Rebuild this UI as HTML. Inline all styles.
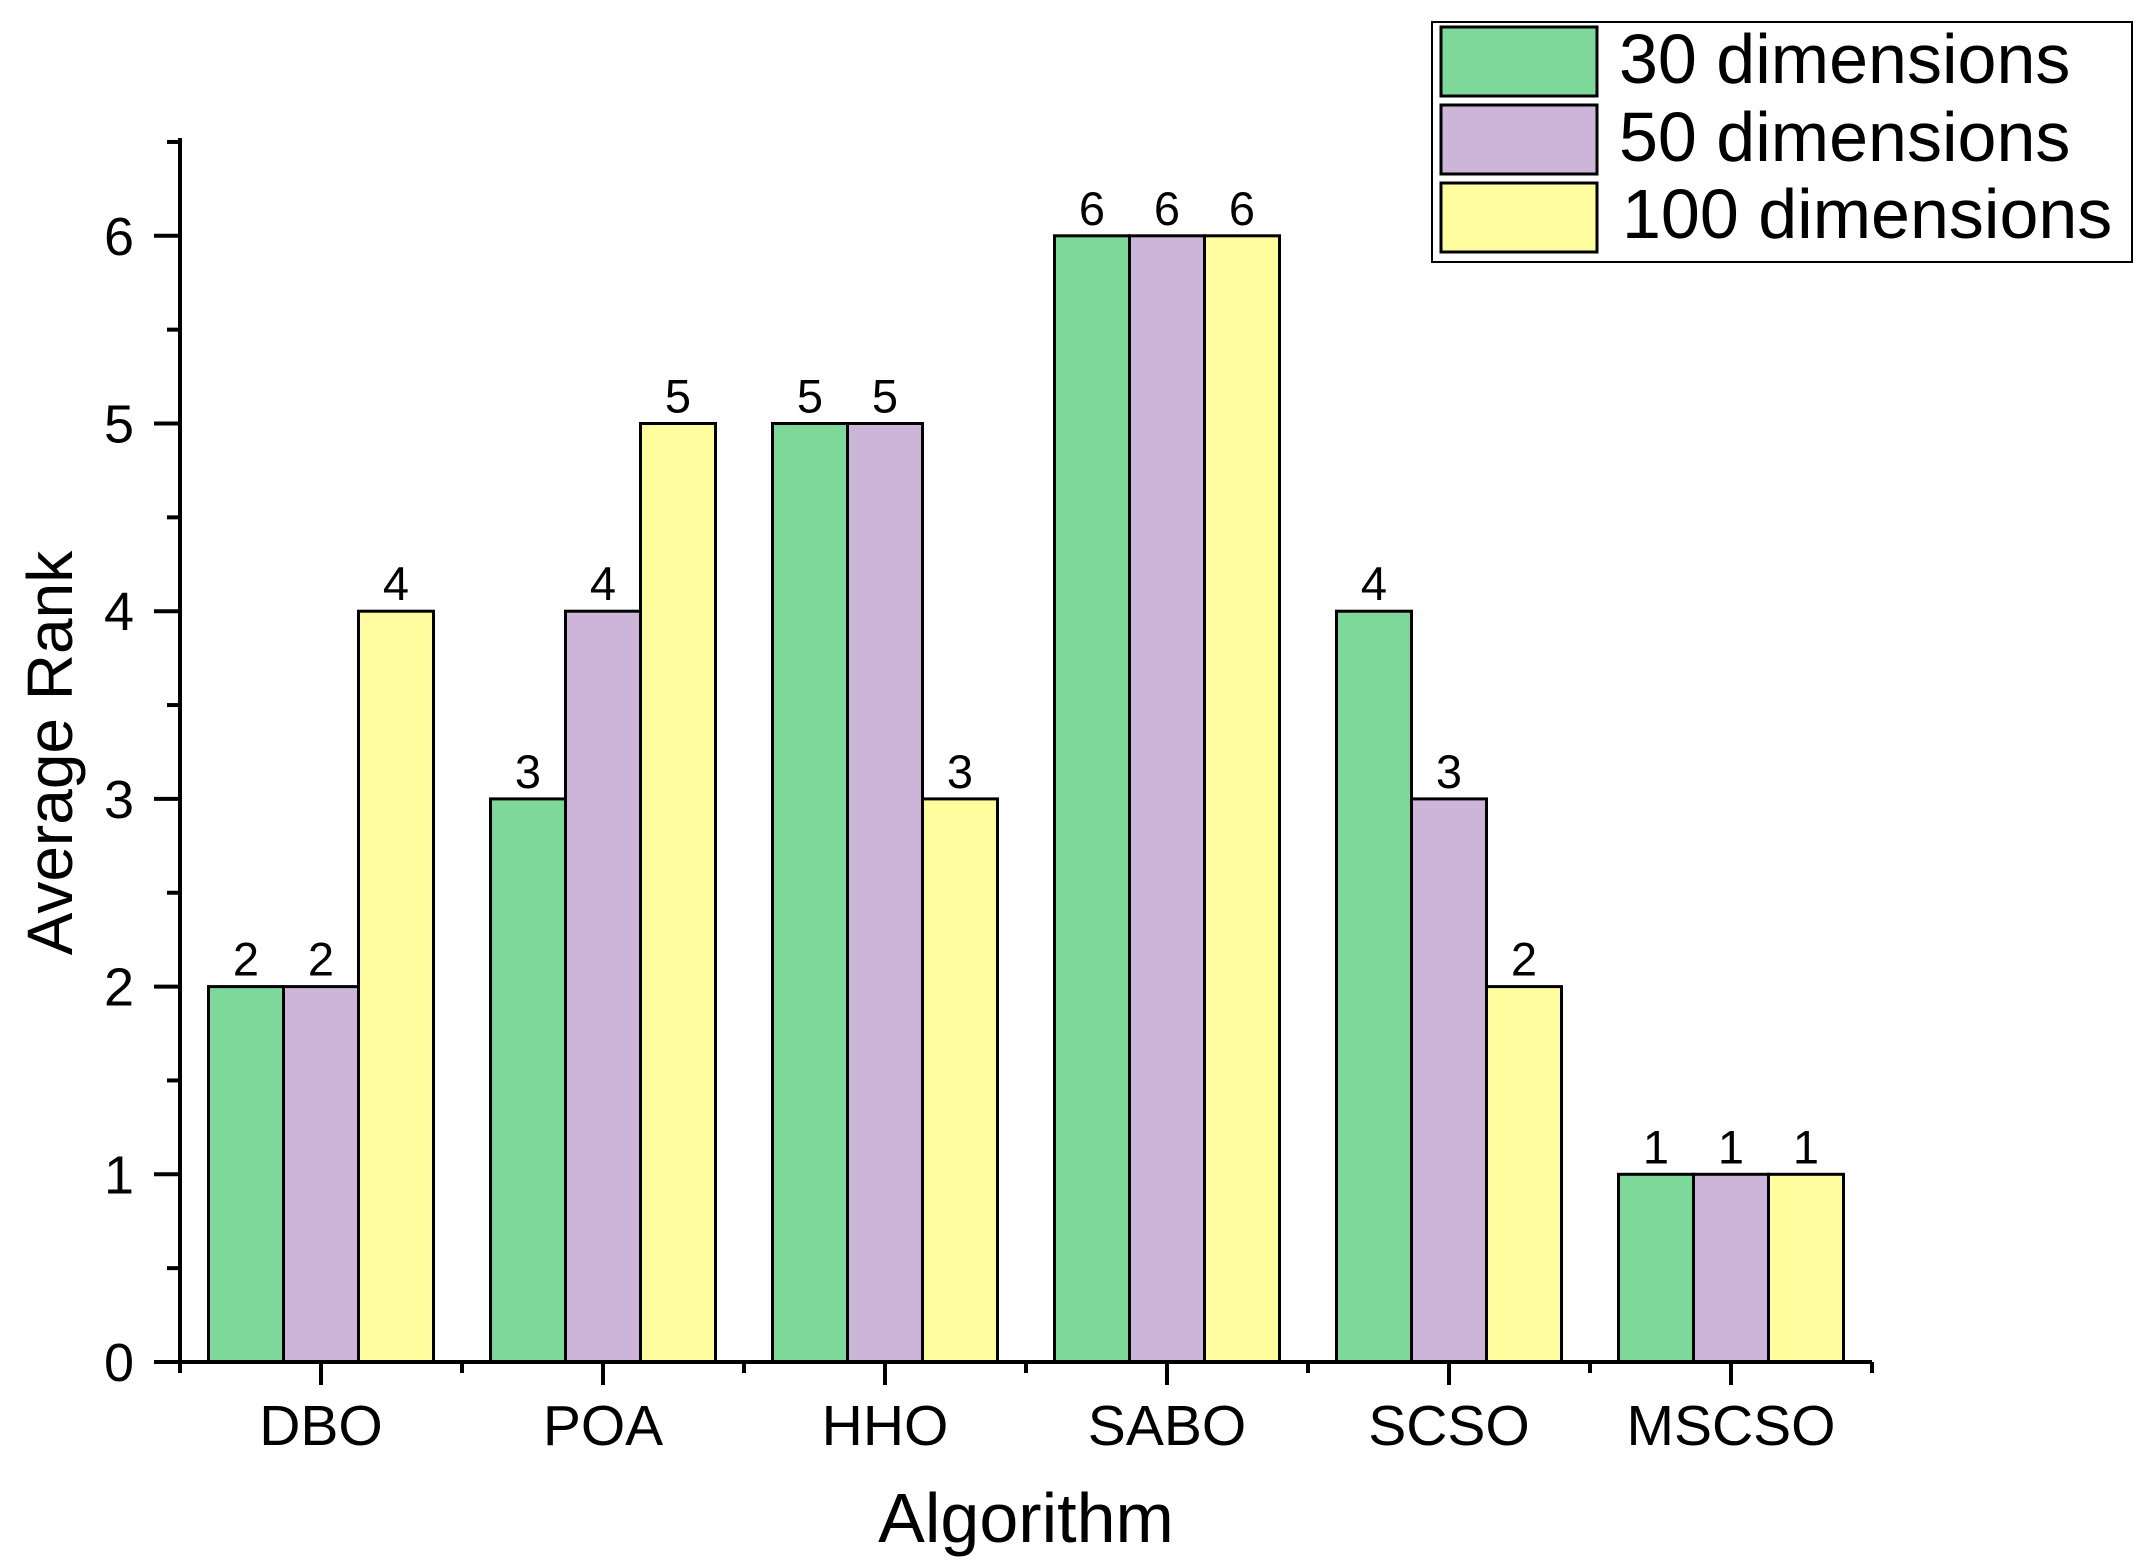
<!DOCTYPE html>
<html><head><meta charset="utf-8"><style>
html,body{margin:0;padding:0;background:#fff;}
svg{display:block;font-family:"Liberation Sans",Arial,sans-serif;}
</style></head><body>
<svg id="chart" width="2155" height="1568" viewBox="0 0 2155 1568" xmlns="http://www.w3.org/2000/svg">
<g id="bars"></g>
<g id="axes"></g>
<text x="0" y="0" transform="translate(72,753) rotate(-90)" text-anchor="middle" font-size="64">Average Rank</text>
<text x="1026" y="1542" text-anchor="middle" font-size="70">Algorithm</text>
<g>
<rect x="1432" y="22" width="700" height="240" fill="#fff" stroke="#000" stroke-width="2"/>
<rect x="1441" y="27" width="156" height="69" fill="#7ED899" stroke="#000" stroke-width="3"/>
<text x="1619" y="83" font-size="70">30 dimensions</text>
<rect x="1441" y="105" width="156" height="69" fill="#CDB5D9" stroke="#000" stroke-width="3"/>
<text x="1619" y="161" font-size="70">50 dimensions</text>
<rect x="1441" y="183" width="156" height="69" fill="#FFFD9E" stroke="#000" stroke-width="3"/>
<text x="1622" y="238" font-size="70">100 dimensions</text>
</g>
</svg>
<script>
const categories = ["DBO","POA","HHO","SABO","SCSO","MSCSO"];
const dim30 = [2,3,5,6,4,1];
const dim50 = [2,4,5,6,3,1];
const dim100 = [4,5,3,6,2,1];
const yTicks = [0,1,2,3,4,5,6];

const NS = "http://www.w3.org/2000/svg";
const x0 = 180, step = 282, y0 = 1362, unit = 187.7, barW = 75;
const xc = i => x0 + step*(i+0.5);
const yv = v => y0 - v*unit;
function mk(tag, attrs, parent){const e=document.createElementNS(NS,tag);for(const k in attrs)e.setAttribute(k,attrs[k]);parent.appendChild(e);return e;}
const bars = document.getElementById('bars');
const axes = document.getElementById('axes');
const series = [[dim30,"#7ED899","30"],[dim50,"#CDB5D9","50"],[dim100,"#FFFD9E","100"]];
series.forEach((s,si)=>{
  s[0].forEach((v,i)=>{
    const bx = xc(i) - 1.5*barW + si*barW;
    const r = mk('rect',{x:bx,y:yv(v),width:barW,height:y0-yv(v),fill:s[1],stroke:"#000","stroke-width":3},bars);
    
    
    const t = mk('text',{x:bx+barW/2,y:yv(v)-11,"text-anchor":"middle","font-size":47},bars);
    t.textContent = v;
    
    
  });
});
const xEnd = x0 + step*categories.length;
let l = mk('line',{x1:x0,y1:y0,x2:xEnd,y2:y0,stroke:"#000","stroke-width":4},axes);


l = mk('line',{x1:x0,y1:y0+11,x2:x0,y2:138,stroke:"#000","stroke-width":4},axes);


yTicks.forEach(v=>{
  const tk = mk('line',{x1:x0-26,y1:yv(v),x2:x0,y2:yv(v),stroke:"#000","stroke-width":4},axes);
  
  
  const mn = mk('line',{x1:x0-13,y1:yv(v+0.5),x2:x0,y2:yv(v+0.5),stroke:"#000","stroke-width":4},axes);
  
  
  const t = mk('text',{x:134,y:yv(v)+19,"text-anchor":"end","font-size":54},axes);
  t.textContent = v;
  
  
});
categories.forEach((c,i)=>{
  const tk = mk('line',{x1:xc(i),y1:y0,x2:xc(i),y2:y0+23,stroke:"#000","stroke-width":4},axes);
  
  
  const mn = mk('line',{x1:x0+step*(i+1),y1:y0,x2:x0+step*(i+1),y2:y0+11,stroke:"#000","stroke-width":4},axes);
  
  
  const t = mk('text',{x:xc(i),y:1445,"text-anchor":"middle","font-size":57},axes);
  t.textContent = c;
  
  
});
</script>
</body></html>
